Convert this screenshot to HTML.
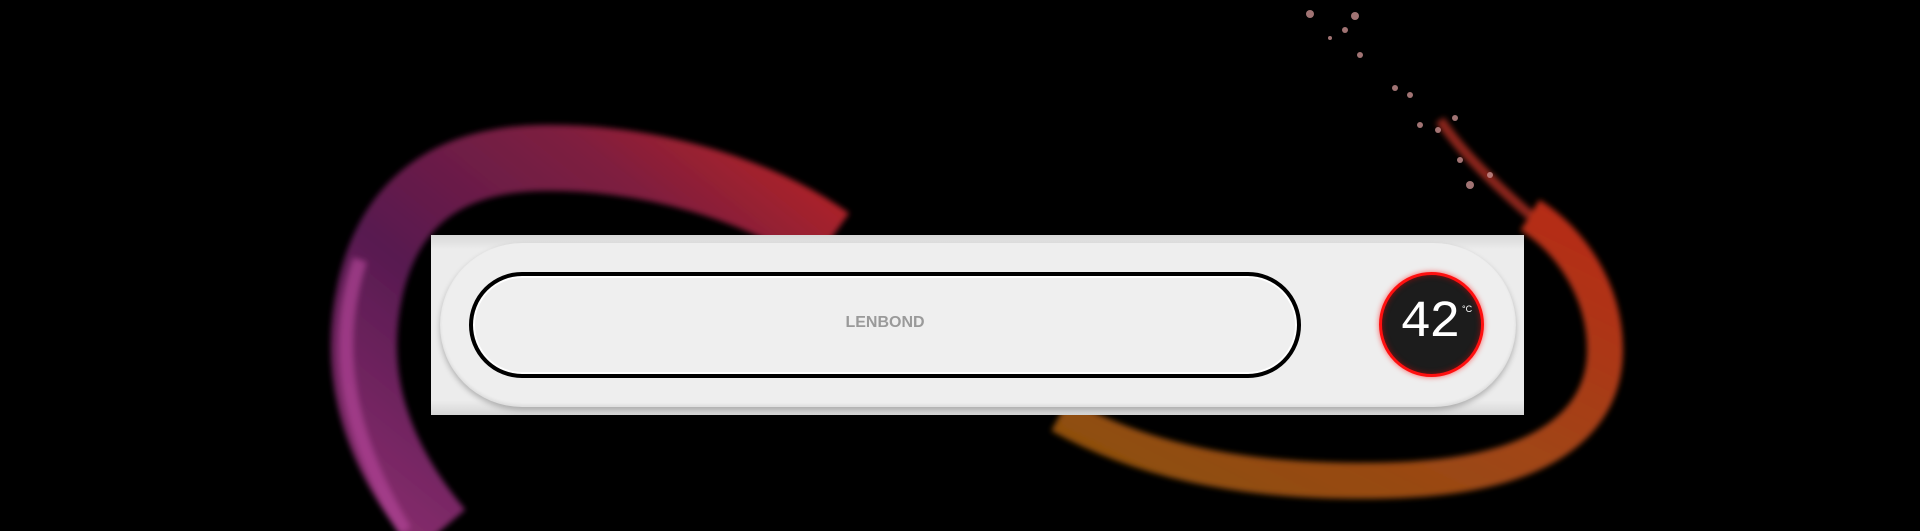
<!DOCTYPE html>
<html><head><meta charset="utf-8"><style>
html,body{margin:0;padding:0;background:#000;}
#c{position:relative;width:1920px;height:531px;overflow:hidden;background:#000;}
svg{position:absolute;left:0;top:0;}
.panel{position:absolute;left:431px;top:235px;width:1093px;height:180px;background:linear-gradient(#d8d8d8,#ececec 8%,#ececec 92%,#d6d6d6);}
.pill{position:absolute;left:9px;top:8px;width:1076px;height:164px;border-radius:82px;background:#eeeeee;box-shadow:0 3px 6px rgba(0,0,0,.25),inset 0 -2px 3px rgba(0,0,0,.08);}
.ring{position:absolute;left:29px;top:29px;width:824px;height:98px;border:4px solid #000;border-radius:53px;background:#efefef;box-shadow:inset 0 0 0 2px #fff;}
.logo{position:absolute;left:0;right:0;top:38px;text-align:center;font:bold 16px "Liberation Sans",sans-serif;color:#9a9a9a;}
.disp{position:absolute;left:939px;top:29px;width:99px;height:99px;border-radius:50%;background:#1c1c1c;border:3px solid #ff1010;box-shadow:0 0 6px rgba(255,0,0,.6),inset 0 0 6px rgba(255,0,0,.5);}
.num{position:absolute;left:18px;top:18px;font:52px "Liberation Mono",monospace;color:#fff;letter-spacing:-2px;line-height:60px;}
.deg{position:absolute;left:80px;top:29px;font:9px "Liberation Sans",sans-serif;color:#fff;}
</style></head><body><div id="c">
<svg width="1920" height="531" viewBox="0 0 1920 531">
<defs>
<linearGradient id="gl" x1="0" y1="1" x2="1" y2="0">
<stop offset="0" stop-color="#c0409a"/><stop offset=".4" stop-color="#7a2470"/><stop offset=".75" stop-color="#b02a58"/><stop offset="1" stop-color="#ff3030"/></linearGradient>
<linearGradient id="gr" x1="0" y1="1" x2="1" y2="0">
<stop offset="0" stop-color="#c07010"/><stop offset=".5" stop-color="#e06020"/><stop offset="1" stop-color="#ff3a20"/></linearGradient>
<filter id="b"><feGaussianBlur stdDeviation="3"/></filter>
</defs>
<g filter="url(#b)" opacity=".85">
<path d="M440 531 C380 460 350 380 370 290 C390 200 450 160 540 158 C650 156 760 190 830 240" fill="none" stroke="url(#gl)" stroke-width="66" opacity=".85"/>
<path d="M405 531 C350 440 330 350 360 260" fill="none" stroke="#d050b0" stroke-width="14" opacity=".7"/>
<path d="M1060 415 C1150 465 1260 485 1400 480 C1530 475 1605 430 1605 350 C1605 290 1570 240 1530 215" fill="none" stroke="url(#gr)" stroke-width="36" opacity=".85"/>
<path d="M1530 215 C1490 180 1460 150 1440 120" fill="none" stroke="#e84030" stroke-width="10" opacity=".7"/>
</g>
<g fill="#c89090" opacity=".8">
<circle cx="1310" cy="14" r="4"/><circle cx="1355" cy="16" r="4"/><circle cx="1345" cy="30" r="3"/><circle cx="1330" cy="38" r="2"/><circle cx="1360" cy="55" r="3"/><circle cx="1395" cy="88" r="3"/><circle cx="1410" cy="95" r="3"/><circle cx="1420" cy="125" r="3"/><circle cx="1438" cy="130" r="3"/><circle cx="1455" cy="118" r="3"/><circle cx="1460" cy="160" r="3"/><circle cx="1470" cy="185" r="4"/><circle cx="1490" cy="175" r="3"/>
</g>
</svg>
<div class="panel"><div class="pill">
<div class="ring"><div class="logo">LENBOND</div></div>
<div class="disp"><div class="num">42</div><div class="deg">°C</div></div>
</div></div>
</div></body></html>
